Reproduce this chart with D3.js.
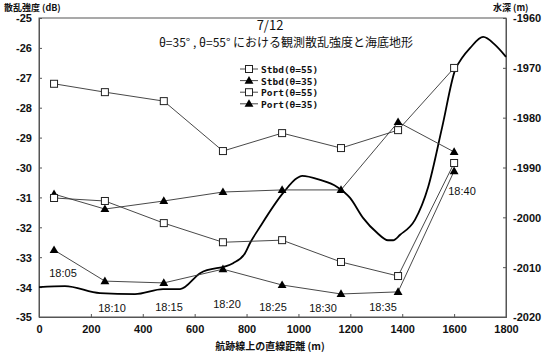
<!DOCTYPE html>
<html><head><meta charset="utf-8">
<script src="https://cdn.jsdelivr.net/npm/d3@7"></script>
<style>
body{margin:0;background:#fff;}
text{font-family:"Noto Sans CJK JP","DejaVu Sans",sans-serif;fill:#111;}
</style></head>
<body><svg id="c" width="550" height="355"></svg>
<script>
const distances = [58, 254, 481, 709, 937, 1164, 1384, 1600];
const stbd55 = [-27.2, -27.48, -27.78, -29.45, -28.85, -29.35, -28.75, -26.67];
const stbd35 = [-30.89, -31.39, -31.12, -30.82, -30.75, -30.75, -28.48, -29.48];
const port55 = [-31.02, -31.12, -31.86, -32.5, -32.43, -33.16, -33.63, -29.85];
const port35 = [-32.76, -33.8, -33.86, -33.4, -33.93, -34.23, -34.16, -30.12];
const times = ["18:05","18:10","18:15","18:20","18:25","18:30","18:35","18:40"];
const depthDist = [0,100,235,370,478,544,621,748,794,813,852,941,995,1014,1083,1149,1199,1249,1303,1345,1365,1392,1449,1500,1554,1604,1631,1662,1712,1758,1800];
const depthVal = [-2014.0,-2013.8,-2015.2,-2015.4,-2014.4,-2014.4,-2011.2,-2009.2,-2007.2,-2005.2,-2001.9,-1995.1,-1992.1,-1991.7,-1992.5,-1993.9,-1996.1,-2000.1,-2003.1,-2004.6,-2004.6,-2003.5,-2000.5,-1993.9,-1981.9,-1970.4,-1968.0,-1966.0,-1963.8,-1965.4,-1967.8];
const xTicks = [0,200,400,600,800,1000,1200,1400,1600,1800];
const yTicks = [-25,-26,-27,-28,-29,-30,-31,-32,-33,-34,-35];
const y2Ticks = [-1960,-1970,-1980,-1990,-2000,-2010,-2020];
const seriesNames = ["Stbd(θ=55)","Stbd(θ=35)","Port(θ=55)","Port(θ=35)"];
const seriesMarks = ["square","triangle","square","triangle"];

const svg = d3.select("#c");
const L=39,R=506,T=18,B=317;
const x = d3.scaleLinear().domain([0,1800]).range([L,R]);
const y = d3.scaleLinear().domain([-35,-25]).range([B,T]);
const y2 = d3.scaleLinear().domain([-2020,-1960]).range([B,T]);

// frame
svg.append("rect").attr("x",L).attr("y",T).attr("width",R-L).attr("height",B-T)
  .attr("fill","none").attr("stroke","#555").attr("stroke-width",1);

// axes
const gx = svg.append("g").attr("transform",`translate(0,${B})`)
  .call(d3.axisBottom(x).tickValues(xTicks).tickSize(-3).tickPadding(8).tickFormat(d3.format("d")));
const gy = svg.append("g").attr("transform",`translate(${L},0)`)
  .call(d3.axisLeft(y).tickValues(yTicks).tickSize(-3).tickPadding(7).tickFormat(d=>d3.format("d")(d).replace("−","-")));
const gy2 = svg.append("g").attr("transform",`translate(${R},0)`)
  .call(d3.axisRight(y2).tickValues(y2Ticks).tickSize(-3).tickPadding(7).tickFormat(d=>d3.format("d")(d).replace("−","-")));
[gx,gy,gy2].forEach(g=>{
  g.select(".domain").attr("stroke","#555");
  g.selectAll(".tick line").attr("stroke","#555");
  g.selectAll(".tick text").style("font-family","'Liberation Sans Narrow','Liberation Sans',sans-serif")
    .style("font-size","11px").style("font-weight","bold").attr("fill","#111");
});
gy.selectAll(".tick text").attr("dy","0.36em");
gy2.selectAll(".tick text").attr("dy","0.36em");

// depth curve
svg.append("path").datum(depthDist.map((d,i)=>[d,depthVal[i]]))
  .attr("fill","none").attr("stroke","#000").attr("stroke-width",1.8)
  .attr("d",d3.line().x(d=>x(d[0])).y(d=>y2(d[1])).curve(d3.curveMonotoneX));

const allSeries = [stbd55,stbd35,port55,port35];
const line = d3.line().x(d=>x(d[0])).y(d=>y(d[1]));
function drawMark(g,type,cx,cy){
  if(type==="square"){
    g.append("rect").attr("x",cx-3.5).attr("y",cy-3.5).attr("width",7).attr("height",7)
      .attr("fill","#fff").attr("stroke","#222").attr("stroke-width",1);
  } else {
    g.append("path").attr("d",d3.symbol(d3.symbolTriangle,34)()).attr("transform",`translate(${cx},${cy+0.5})`)
      .attr("fill","#000");
  }
}
allSeries.forEach((s,k)=>{
  const pts = distances.map((d,i)=>[d,s[i]]);
  svg.append("path").datum(pts).attr("fill","none").attr("stroke","#333").attr("stroke-width",0.9).attr("d",line);
  const g = svg.append("g");
  pts.forEach(p=>drawMark(g,seriesMarks[k],x(p[0]),y(p[1])));
});

// legend
const lg = svg.append("g");
seriesNames.forEach((n,i)=>{
  const ly = 69 + i*11.6;
  lg.append("line").attr("x1",240).attr("x2",258).attr("y1",ly).attr("y2",ly).attr("stroke","#333").attr("stroke-width",0.9);
  drawMark(lg,seriesMarks[i],249,ly);
  lg.append("text").attr("x",261).attr("y",ly+4).text(n)
    .style("font-family","'DejaVu Sans Mono',monospace").style("font-size","9.5px").style("font-weight","bold");
});

// time labels
const timePos = [[63,273],[112,308],[169,307],[227,304],[273,307],[323,308],[383,307],[462,191]];
times.forEach((t,i)=>{
  svg.append("text").attr("x",timePos[i][0]).attr("y",timePos[i][1]+4).attr("text-anchor","middle")
    .text(t).style("font-family","'Liberation Sans Narrow','Liberation Sans',sans-serif").style("font-size","11px");
});

// titles
svg.append("text").attr("x",270).attr("y",30).attr("text-anchor","middle").text("7/12").style("font-size","13px");
svg.append("text").attr("x",286).attr("y",47).attr("text-anchor","middle")
  .text("θ=35° , θ=55° における観測散乱強度と海底地形").style("font-size","12px");
svg.append("text").attr("x",4).attr("y",10.5).text("散乱強度 (dB)").style("font-size","9px").style("font-weight","bold");
svg.append("text").attr("x",493).attr("y",10.5).text("水深 (m)").style("font-size","9px").style("font-weight","bold");
svg.append("text").attr("x",270).attr("y",350).attr("text-anchor","middle").text("航跡線上の直線距離 (m)")
  .style("font-size","10px").style("font-weight","bold");
</script></body></html>
